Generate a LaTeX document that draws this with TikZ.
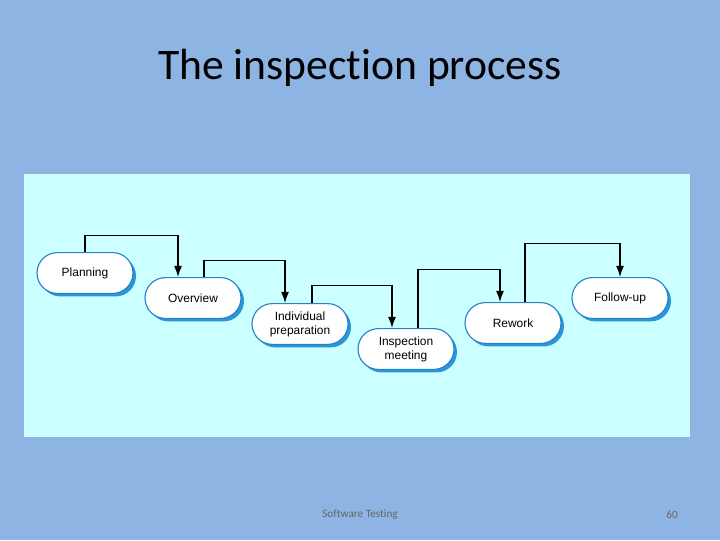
\documentclass[tikz,border=0pt]{standalone}
\usepackage{fontspec}
\setmainfont[Ligatures=NoCommon]{Carlito}
\newfontfamily\arialf{Liberation Sans}
\usetikzlibrary{shapes.misc,arrows.meta}
\begin{document}
\begin{tikzpicture}[x=0.025cm,y=-0.025cm,
  stage/.style={draw={rgb,255:red,40;green,130;blue,200},line width=0.8pt,fill=white,rounded rectangle,minimum width=2.4cm,minimum height=1.02cm,font=\arialf\fontsize{8.5}{10}\selectfont,align=center,inner sep=0pt},
  shad/.style={fill={rgb,255:red,40;green,150;blue,215},rounded rectangle,minimum width=2.4cm,minimum height=1.02cm,inner sep=0pt},
  conn/.style={draw=black,line width=0.9pt,-{Latex[length=2.8mm,width=2mm]}}]
\useasboundingbox (0,0) rectangle (720,540);
\fill[fill={rgb,255:red,142;green,180;blue,227}] (0,0) rectangle (720,540);
\fill[fill={rgb,255:red,204;green,255;blue,255}] (24,174) rectangle (690,437);
\node[font=\fontsize{31}{34}\selectfont] (title) at (360,68) {The inspection process};
\node[font=\fontsize{8}{9}\selectfont,text=gray!80!black] (foot) at (360,515) {Software Testing};
\node[font=\fontsize{8}{9}\selectfont,text=gray!80!black] (num) at (672,515) {60};
\foreach \n/\x/\y/\t in {a/85/273/Planning,b/193/298/Overview,c/300/324/{Individual\\preparation},d/406/349/{Inspection\\meeting},e/513/323/Rework,f/620/298/Follow-up}{
  \node[shad] (\n s) at (\x+3,\y+3) {};
  \node[stage] (\n) at (\x,\y) {\t};
}
\draw[conn] (a.north) -- ++(0,-16.5) -| ([xshift=-0.375cm]b.north);
\draw[conn] ([xshift=0.275cm]b.north) -- ++(0,-16.5) -| ([xshift=-0.375cm]c.north);
\draw[conn] ([xshift=0.3cm]c.north) -- ++(0,-17.5) -| ([xshift=-0.35cm]d.north);
\draw[conn] ([xshift=0.3cm]d.north) -- ++(0,-58.5) -| ([xshift=-0.325cm]e.north);
\draw[conn] ([xshift=0.3cm]e.north) -- ++(0,-58.5) -| (f.north);
\end{tikzpicture}
\end{document}
